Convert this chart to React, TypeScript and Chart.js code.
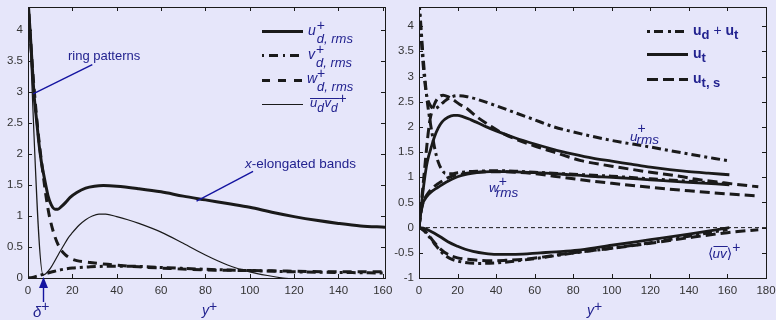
import React, { useEffect, useRef } from "react";
import { Chart, registerables } from "chart.js";

Chart.register(...registerables);

const FONT = "'Liberation Sans', Arial, Helvetica, sans-serif";
const INK = "#1a1a1a";
const BLUE = "#22228f";
const TICK_COLOR = "#333333";
const BG = "#e6e6fa";

// ---------- tick labels ----------
const leftXTicks = [0, 20, 40, 60, 80, 100, 120, 140, 160];
const leftYTicks = [0, 0.5, 1, 1.5, 2, 2.5, 3, 3.5, 4];
const rightXTicks = [0, 20, 40, 60, 80, 100, 120, 140, 160, 180];
const rightYTicks = [-1, -0.5, 0, 0.5, 1, 1.5, 2, 2.5, 3, 3.5, 4];

// ---------- left panel series ----------
const udRmsX = [0, 1, 2, 2.7, 4, 5, 6, 7, 8, 9, 10.5, 12.2, 13.5, 15, 17, 19, 22, 26, 30, 34, 40, 50, 60, 70, 80, 90, 100, 110, 120, 130, 140, 150, 161];
const udRmsY = [4.5, 3.95, 3.37, 2.97, 2.5, 2.15, 1.88, 1.68, 1.5, 1.33, 1.18, 1.11, 1.11, 1.15, 1.22, 1.3, 1.38, 1.45, 1.48, 1.49, 1.48, 1.44, 1.39, 1.32, 1.26, 1.2, 1.14, 1.06, 0.99, 0.93, 0.88, 0.84, 0.82];

const vdRmsX = [0, 2, 4, 6, 8, 11, 14.4, 20, 28, 36, 45, 60, 80, 100, 120, 140, 161];
const vdRmsY = [0, 0.01, 0.03, 0.05, 0.07, 0.1, 0.13, 0.16, 0.18, 0.19, 0.19, 0.17, 0.14, 0.12, 0.1, 0.09, 0.08];

const wdRmsX = [0, 1, 2, 3, 4, 5, 6, 7, 8, 9, 10, 12, 14.4, 17, 19, 22, 28, 36, 50, 60, 80, 100, 120, 140, 161];
const wdRmsY = [4.5, 3.95, 3.4, 2.95, 2.55, 2.2, 1.9, 1.62, 1.35, 1.12, 0.94, 0.68, 0.48, 0.37, 0.32, 0.28, 0.25, 0.22, 0.18, 0.16, 0.13, 0.12, 0.11, 0.1, 0.1];

const udvdX = [0, 6.8, 8, 10, 12, 14, 16, 18, 20, 23, 26, 29, 32, 35, 40, 45, 50, 60, 70, 80, 90, 100, 108, 115, 125];
const udvdY = [4.5, 0.05, 0.07, 0.15, 0.27, 0.4, 0.52, 0.64, 0.73, 0.85, 0.94, 1.0, 1.03, 1.03, 0.99, 0.94, 0.88, 0.74, 0.56, 0.37, 0.21, 0.1, 0.04, 0.0, -0.03];

// ---------- right panel series ----------
// u_rms
const uTotX = [0, 1, 2, 3, 4, 6, 8, 10, 13, 16, 20, 25, 30, 40, 50, 60, 70, 80, 90, 100, 120, 140, 160];
const uTotY = [4.5, 3.85, 3.3, 2.9, 2.62, 2.42, 2.36, 2.4, 2.5, 2.58, 2.62, 2.6, 2.55, 2.42, 2.28, 2.14, 2.0, 1.9, 1.81, 1.73, 1.6, 1.46, 1.33];
const uTX = [0, 1, 2, 3, 4, 5, 6, 8, 10, 12, 15, 18, 20, 23, 27, 30, 35, 40, 50, 60, 70, 80, 90, 100, 110, 120, 130, 140, 150, 161];
const uTY = [0, 0.35, 0.7, 1.0, 1.25, 1.42, 1.55, 1.8, 1.98, 2.1, 2.19, 2.23, 2.23, 2.2, 2.14, 2.09, 2.0, 1.92, 1.78, 1.66, 1.55, 1.46, 1.38, 1.32, 1.26, 1.2, 1.15, 1.11, 1.08, 1.05];
const uTSX = [0, 1, 2, 3, 4, 5, 6, 8, 10, 12.5, 15, 18, 21, 25, 30, 37, 44, 50, 60, 70, 84, 100, 120, 135, 144, 160, 176];
const uTSY = [0, 0.4, 0.8, 1.2, 1.6, 1.95, 2.2, 2.45, 2.58, 2.63, 2.6, 2.53, 2.45, 2.36, 2.2, 2.02, 1.86, 1.76, 1.62, 1.5, 1.33, 1.22, 1.1, 1.02, 0.96, 0.88, 0.81];

// w_rms
const wTotX = [0, 1, 2, 3, 4, 5, 6, 7, 8, 10, 12, 13.5, 17, 20, 25, 30, 40, 50, 60, 80, 100, 120, 140, 160];
const wTotY = [4.5, 4.0, 3.45, 3.0, 2.6, 2.3, 2.05, 1.82, 1.6, 1.3, 1.14, 1.08, 1.07, 1.09, 1.11, 1.12, 1.13, 1.12, 1.1, 1.06, 1.02, 0.97, 0.92, 0.87];
const wTX = [0, 1, 2, 3, 5, 7, 9, 11, 14, 17, 20, 25, 30, 37, 45, 60, 75, 89, 100, 120, 140, 161];
const wTY = [0, 0.3, 0.48, 0.56, 0.66, 0.73, 0.78, 0.83, 0.9, 0.96, 1.01, 1.06, 1.09, 1.11, 1.11, 1.09, 1.06, 1.02, 1.0, 0.95, 0.9, 0.85];
const wTSX = [0, 1, 2, 3, 5, 7, 9, 11, 14, 17, 20, 25, 30, 40, 50, 60, 70, 84, 100, 120, 140, 160, 176];
const wTSY = [0, 0.3, 0.48, 0.58, 0.7, 0.78, 0.85, 0.9, 0.97, 1.02, 1.05, 1.08, 1.1, 1.11, 1.1, 1.07, 1.02, 0.95, 0.88, 0.8, 0.73, 0.67, 0.63];

// <uv>
const uvTotX = [0, 2, 4, 8, 12, 16, 22, 30, 40, 55, 70, 85, 100, 120, 140, 160];
const uvTotY = [0, -0.04, -0.12, -0.32, -0.5, -0.61, -0.68, -0.71, -0.7, -0.64, -0.56, -0.48, -0.41, -0.3, -0.17, -0.04];
const uvTX = [0, 3, 6, 8, 11, 15, 20, 24, 28, 34, 40, 50, 63, 75, 84, 100, 120, 140, 161];
const uvTY = [0, -0.02, -0.07, -0.11, -0.18, -0.28, -0.37, -0.43, -0.47, -0.51, -0.53, -0.53, -0.5, -0.47, -0.44, -0.35, -0.24, -0.13, 0];
const uvTSX = [0, 2, 4, 7, 11, 15, 20, 28, 37, 45, 54, 63, 72, 84, 100, 120, 140, 160, 176];
const uvTSY = [0, -0.04, -0.1, -0.25, -0.42, -0.53, -0.6, -0.64, -0.66, -0.65, -0.63, -0.59, -0.54, -0.48, -0.41, -0.31, -0.2, -0.1, -0.04];

const zeroX = [0, 180];
const zeroY = [0, 0];

// ---------- helpers ----------
const DASH_DOT = [9, 4, 3, 4];
const DASH_L = [9, 6];
const DASH_R = [10, 5];

function pts(xs: number[], ys: number[]) {
  return xs.map((x, i) => ({ x, y: ys[i] }));
}

function lineDs(label: string, xs: number[], ys: number[], width: number, dash: number[]) {
  return {
    label,
    data: pts(xs, ys),
    borderColor: INK,
    borderWidth: width,
    borderDash: dash,
    borderCapStyle: "butt",
    borderJoinStyle: "round",
    pointRadius: 0,
    pointHoverRadius: 0,
    fill: false,
    cubicInterpolationMode: "monotone",
  } as any;
}

function makeScales(xMax: number, xTicks: number[], yMin: number, yMax: number, yTicks: number[], yWidth: number) {
  const tickFont = { family: FONT, size: 11.5 };
  return {
    x: {
      type: "linear",
      min: 0,
      max: xMax,
      grid: { display: false, drawTicks: false },
      border: { display: false },
      ticks: {
        font: tickFont,
        color: TICK_COLOR,
        padding: 6,
        maxRotation: 0,
        autoSkip: false,
        callback: (v: any) => String(v),
      },
      afterBuildTicks: (s: any) => {
        s.ticks = xTicks.map((v) => ({ value: v }));
      },
      afterFit: (s: any) => {
        s.height = 42;
        s.paddingLeft = 0;
        s.paddingRight = 0;
      },
    },
    y: {
      type: "linear",
      min: yMin,
      max: yMax,
      grid: { display: false, drawTicks: false },
      border: { display: false },
      ticks: {
        font: tickFont,
        color: TICK_COLOR,
        padding: 5,
        autoSkip: false,
        callback: (v: any) => String(v),
      },
      afterBuildTicks: (s: any) => {
        s.ticks = yTicks.map((v) => ({ value: v }));
      },
      afterFit: (s: any) => {
        s.width = yWidth;
        s.paddingTop = 0;
        s.paddingBottom = 0;
      },
    },
  } as any;
}

const framePlugin = {
  id: "frame",
  afterDatasetsDraw(chart: any) {
    const { ctx, chartArea: a, scales } = chart;
    const xs = scales.x;
    const ys = scales.y;
    const L = 4;
    ctx.save();
    ctx.strokeStyle = INK;
    ctx.lineWidth = 1;
    ctx.setLineDash([]);
    ctx.strokeRect(Math.round(a.left) + 0.5, Math.round(a.top) + 0.5, Math.round(a.right - a.left), Math.round(a.bottom - a.top));
    ctx.beginPath();
    for (const t of xs.ticks) {
      const px = Math.round(xs.getPixelForValue(t.value)) + 0.5;
      ctx.moveTo(px, a.bottom);
      ctx.lineTo(px, a.bottom - L);
      ctx.moveTo(px, a.top);
      ctx.lineTo(px, a.top + L);
    }
    for (const t of ys.ticks) {
      const py = Math.round(ys.getPixelForValue(t.value)) + 0.5;
      ctx.moveTo(a.left, py);
      ctx.lineTo(a.left + L, py);
      ctx.moveTo(a.right, py);
      ctx.lineTo(a.right - L, py);
    }
    ctx.stroke();
    ctx.restore();
  },
};

type Run = { t: string; f: string; dy?: number; adv?: boolean; dx?: number };

function drawRuns(ctx: CanvasRenderingContext2D, x: number, y: number, runs: Run[], color = BLUE) {
  ctx.save();
  ctx.fillStyle = color;
  ctx.textBaseline = "alphabetic";
  ctx.textAlign = "left";
  let cx = x;
  for (const r of runs) {
    ctx.font = r.f;
    cx += r.dx || 0;
    ctx.fillText(r.t, cx, y + (r.dy || 0));
    if (r.adv !== false) cx += ctx.measureText(r.t).width;
  }
  ctx.restore();
  return cx;
}

function legendLine(ctx: CanvasRenderingContext2D, x1: number, x2: number, y: number, w: number, dash: number[]) {
  ctx.save();
  ctx.strokeStyle = INK;
  ctx.lineWidth = w;
  ctx.lineCap = "butt";
  ctx.setLineDash(dash);
  ctx.beginPath();
  ctx.moveTo(x1, y);
  ctx.lineTo(x2, y);
  ctx.stroke();
  ctx.restore();
}

function blueLine(ctx: CanvasRenderingContext2D, x1: number, y1: number, x2: number, y2: number) {
  ctx.save();
  ctx.strokeStyle = "#1414a0";
  ctx.lineWidth = 1.4;
  ctx.setLineDash([]);
  ctx.beginPath();
  ctx.moveTo(x1, y1);
  ctx.lineTo(x2, y2);
  ctx.stroke();
  ctx.restore();
}

const IT = (s: number) => `italic ${s}px ${FONT}`;
const RG = (s: number) => `${s}px ${FONT}`;
const BD = (s: number) => `bold ${s}px ${FONT}`;

const leftAnnot = {
  id: "leftAnnot",
  afterDraw(chart: any) {
    const ctx: CanvasRenderingContext2D = chart.ctx;
    const xs = chart.scales.x;
    const ys = chart.scales.y;
    // legend
    legendLine(ctx, 262, 303, 31.5, 3, []);
    legendLine(ctx, 262, 303, 55.5, 3, [2, 5, 9, 5]);
    legendLine(ctx, 262, 303, 80.5, 3, [8, 8]);
    legendLine(ctx, 262, 303, 104.5, 1.2, []);
    const lx = 308;
    drawRuns(ctx, lx, 35, [
      { t: "u", f: IT(14) },
      { t: "+", f: RG(14), dy: -5, adv: false, dx: 1 },
      { t: "d, rms", f: IT(13), dy: 8 },
    ]);
    drawRuns(ctx, lx, 58.5, [
      { t: "v", f: IT(14) },
      { t: "+", f: RG(14), dy: -5, adv: false, dx: 1 },
      { t: "d, rms", f: IT(13), dy: 8 },
    ]);
    drawRuns(ctx, lx - 1, 82.5, [
      { t: "w", f: IT(14) },
      { t: "+", f: RG(14), dy: -5, adv: false, dx: 0 },
      { t: "d, rms", f: IT(13), dy: 8 },
    ]);
    const endX = drawRuns(ctx, 310, 107, [
      { t: "u", f: IT(13) },
      { t: "d", f: IT(12), dy: 5 },
      { t: "v", f: IT(13), dx: 0.5 },
      { t: "d", f: IT(12), dy: 5 },
    ]);
    ctx.save();
    ctx.strokeStyle = BLUE;
    ctx.lineWidth = 1;
    ctx.beginPath();
    ctx.moveTo(310, 98.5);
    ctx.lineTo(endX + 2, 98.5);
    ctx.stroke();
    ctx.restore();
    drawRuns(ctx, endX + 1, 102.5, [{ t: "+", f: RG(14) }]);

    // ring patterns
    drawRuns(ctx, 68, 59.5, [{ t: "ring patterns", f: RG(13) }]);
    blueLine(ctx, xs.getPixelForValue(2.3), ys.getPixelForValue(2.97), xs.getPixelForValue(29), ys.getPixelForValue(3.44));

    // x-elongated bands
    drawRuns(ctx, 245, 168, [
      { t: "x", f: IT(13.5) },
      { t: "-elongated bands", f: RG(13.5) },
    ]);
    blueLine(ctx, xs.getPixelForValue(101.5), ys.getPixelForValue(1.72), xs.getPixelForValue(76), ys.getPixelForValue(1.24));

    // delta+ arrow
    const ax = Math.round(xs.getPixelForValue(6.8)) + 0.5;
    const ay = ys.getPixelForValue(0);
    ctx.save();
    ctx.fillStyle = "#1414a0";
    ctx.strokeStyle = "#1414a0";
    ctx.lineWidth = 1.4;
    ctx.beginPath();
    ctx.moveTo(ax, ay + 8);
    ctx.lineTo(ax, ay + 24);
    ctx.stroke();
    ctx.beginPath();
    ctx.moveTo(ax, ay - 1);
    ctx.lineTo(ax - 4.5, ay + 10);
    ctx.lineTo(ax + 4.5, ay + 10);
    ctx.closePath();
    ctx.fill();
    ctx.restore();
    drawRuns(ctx, 33, 317, [
      { t: "δ", f: IT(15) },
      { t: "+", f: RG(14), dy: -6 },
    ]);

    // axis title
    drawRuns(ctx, 202, 315, [
      { t: "y", f: IT(14) },
      { t: "+", f: RG(14), dy: -4 },
    ]);
  },
};

const RX = 388;

const rightAnnot = {
  id: "rightAnnot",
  afterDraw(chart: any) {
    const ctx: CanvasRenderingContext2D = chart.ctx;
    ctx.save();
    ctx.translate(-RX, 0);
    // legend
    legendLine(ctx, 647, 688, 31.5, 3, [3, 4, 9, 5]);
    legendLine(ctx, 647, 688, 54.5, 3, []);
    legendLine(ctx, 647, 688, 79.5, 3, [11, 5]);
    drawRuns(ctx, 693, 35, [
      { t: "u", f: BD(14) },
      { t: "d", f: BD(13), dy: 4 },
      { t: " + ", f: RG(14) },
      { t: "u", f: BD(14) },
      { t: "t", f: BD(13), dy: 4 },
    ]);
    drawRuns(ctx, 693, 58, [
      { t: "u", f: BD(14) },
      { t: "t", f: BD(13), dy: 4 },
    ]);
    drawRuns(ctx, 693, 83, [
      { t: "u", f: BD(14) },
      { t: "t, s", f: BD(13), dy: 4 },
    ]);

    // u_rms label
    drawRuns(ctx, 630, 141, [
      { t: "u", f: IT(13.5) },
      { t: "+", f: RG(14), dy: -8, adv: false, dx: 0 },
      { t: "rms", f: IT(13.5), dy: 3, dx: -1 },
    ]);
    // w_rms label
    drawRuns(ctx, 489, 192, [
      { t: "w", f: IT(13.5) },
      { t: "+", f: RG(14), dy: -6, adv: false, dx: 0 },
      { t: "rms", f: IT(13.5), dy: 5, dx: -3 },
    ]);
    // <uv>+
    ctx.save();
    ctx.fillStyle = BLUE;
    ctx.textBaseline = "alphabetic";
    ctx.font = `14px 'DejaVu Sans', ${FONT}`;
    const lb = ctx.measureText("\u27E8").width;
    ctx.fillText("\u27E8", 708, 258);
    const uvStart = 708 + lb - 1;
    ctx.font = IT(13.5);
    ctx.fillText("uv", uvStart, 258);
    const uvw = ctx.measureText("uv").width;
    ctx.strokeStyle = BLUE;
    ctx.lineWidth = 1;
    ctx.beginPath();
    ctx.moveTo(uvStart + 1, 246.5);
    ctx.lineTo(uvStart + uvw + 1, 246.5);
    ctx.stroke();
    ctx.font = `14px 'DejaVu Sans', ${FONT}`;
    const rbX = uvStart + uvw;
    ctx.fillText("\u27E9", rbX, 258);
    const rb = ctx.measureText("\u27E9").width;
    ctx.font = RG(14);
    ctx.fillText("+", rbX + rb, 252);
    ctx.restore();

    // axis title
    drawRuns(ctx, 587, 315, [
      { t: "y", f: IT(14) },
      { t: "+", f: RG(14), dy: -4 },
    ]);
    ctx.restore();
  },
};

export default function App() {
  const leftRef = useRef<HTMLCanvasElement | null>(null);
  const rightRef = useRef<HTMLCanvasElement | null>(null);

  useEffect(() => {
    const common = {
      responsive: false,
      animation: false,
      devicePixelRatio: 1,
      events: [],
      plugins: { legend: { display: false }, tooltip: { enabled: false } },
      elements: { line: { tension: 0 } },
    };

    const left = new Chart(leftRef.current as HTMLCanvasElement, {
      type: "line",
      data: {
        datasets: [
          lineDs("u_d,rms", udRmsX, udRmsY, 3, []),
          lineDs("v_d,rms", vdRmsX, vdRmsY, 3, DASH_DOT),
          lineDs("w_d,rms", wdRmsX, wdRmsY, 3, DASH_L),
          lineDs("u_d v_d", udvdX, udvdY, 1.2, []),
        ],
      },
      options: {
        ...common,
        layout: { padding: { left: 0, right: 15, top: 7, bottom: 0 } },
        scales: makeScales(161, leftXTicks, 0, 4.37, leftYTicks, 28),
      } as any,
      plugins: [framePlugin, leftAnnot],
    } as any);

    const right = new Chart(rightRef.current as HTMLCanvasElement, {
      type: "line",
      data: {
        datasets: [
          lineDs("zero", zeroX, zeroY, 1, [4, 3]),
          lineDs("u ud+ut", uTotX, uTotY, 3, DASH_DOT),
          lineDs("u ut", uTX, uTY, 2.8, []),
          lineDs("u uts", uTSX, uTSY, 3, DASH_R),
          lineDs("w ud+ut", wTotX, wTotY, 3, DASH_DOT),
          lineDs("w ut", wTX, wTY, 2.8, []),
          lineDs("w uts", wTSX, wTSY, 3, DASH_R),
          lineDs("uv ud+ut", uvTotX, uvTotY, 3, DASH_DOT),
          lineDs("uv ut", uvTX, uvTY, 2.8, []),
          lineDs("uv uts", uvTSX, uvTSY, 3, DASH_R),
        ],
      },
      options: {
        ...common,
        layout: { padding: { left: 0, right: 10, top: 7, bottom: 0 } },
        scales: makeScales(180, rightXTicks, -1, 4.38, rightYTicks, 31),
      } as any,
      plugins: [framePlugin, rightAnnot],
    } as any);

    return () => {
      left.destroy();
      right.destroy();
    };
  }, []);

  return (
    <div
      style={{
        position: "absolute",
        left: 0,
        top: 0,
        width: 776,
        height: 320,
        background: BG,
        overflow: "hidden",
      }}
    >
      <canvas
        ref={leftRef}
        width={400}
        height={320}
        style={{ position: "absolute", left: 0, top: 0, width: 400, height: 320 }}
      />
      <canvas
        ref={rightRef}
        width={388}
        height={320}
        style={{ position: "absolute", left: RX, top: 0, width: 388, height: 320 }}
      />
    </div>
  );
}
